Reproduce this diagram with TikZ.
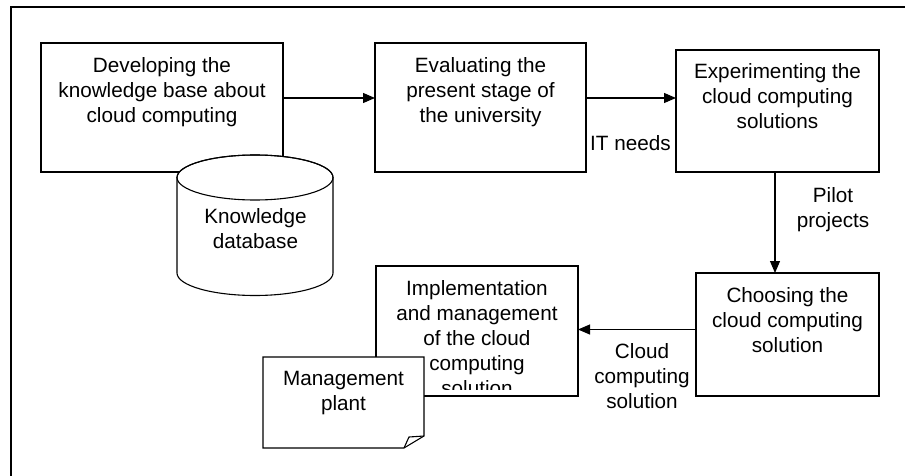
\documentclass[tikz,border=0pt]{standalone}
\usepackage{fontspec}
\setmainfont{Liberation Sans}
\usetikzlibrary{positioning, arrows.meta}

\tikzset{
  blocco/.style={draw, fill=white, line width=1.1pt, inner sep=0pt, outer sep=0pt},
  testo/.style={inner sep=0pt, align=center, font=\fontsize{20.7}{25}\selectfont},
  freccia/.style={line width=1.1pt, -{Triangle[length=12pt, width=10pt]}},
  forma/.style={line width=1.1pt, fill=white},
}

\begin{document}
\begin{tikzpicture}[x=1pt, y=-1pt]
        \useasboundingbox (0,0) rectangle (905,476);
        % Cornice
        \draw[line width=1.1pt] (905,7) -- (11,7) -- (11,476);

        % Blocchi in alto
        \node[blocco, minimum width=242pt, minimum height=129pt] (sviluppo) at (162,107.5) {};
        \node[testo, below=14pt of sviluppo.north] (tsviluppo) {Developing the\\knowledge base about\\cloud computing};
        \node[blocco, minimum width=211pt, minimum height=129pt] (valutazione) at (480.5,107.5) {};
        \node[testo, below=14pt of valutazione.north] (tvalutazione) {Evaluating the\\present stage of\\the university};
        \node[blocco, minimum width=203pt, minimum height=122pt] (sperimentazione) at (777.5,111) {};
        \node[testo, below=13pt of sperimentazione.north] (tsperimentazione) {Experimenting the\\cloud computing\\solutions};

        % Archivio della conoscenza
        \filldraw[forma] (177,177.5) -- (177,273) arc[start angle=180, end angle=0, x radius=78, y radius=22.5]
            -- (333,177.5) arc[start angle=0, end angle=-180, x radius=78, y radius=22.5] -- cycle;
        \draw[line width=1.1pt] (255,177.5) ellipse [x radius=78, y radius=22.5];
        \node[testo, anchor=north] (tarchivio) at (255.5,208) {Knowledge\\database};

        % Blocchi in basso
        \node[blocco, minimum width=183pt, minimum height=123pt] (scelta) at (787.5,334.5) {};
        \node[testo, below=14pt of scelta.north] (tscelta) {Choosing the\\cloud computing\\solution};
        \node[blocco, minimum width=202pt, minimum height=130pt] (implementazione) at (477,331) {};
        \begin{scope}
          \clip (376,266) rectangle (578,389);
          \node[testo, below=14pt of implementazione.north] (timplementazione) {Implementation\\and management\\of the cloud\\computing\\solution};
        \end{scope}

        % Piano di gestione
        \filldraw[forma] (263,357) -- (424,357) -- (424,436) -- (404,448) -- (263,448) -- cycle;
        \draw[line width=1.1pt] (404,448) -- (409,437) -- (424,436);
        \node[testo, anchor=north] (tpiano) at (343.5,371) {Management\\plant};

        % Frecce
        \draw[freccia] ([yshift=9.5pt]sviluppo.east) -- ([yshift=9.5pt]sviluppo.east -| valutazione.west);
        \draw[freccia] ([yshift=9.5pt]valutazione.east) -- ([yshift=9.5pt]valutazione.east -| sperimentazione.west);
        \draw[freccia] ([xshift=-2.5pt]sperimentazione.south) -- ([xshift=-2.5pt]sperimentazione.south |- scelta.north);
        \draw[freccia] ([yshift=5pt]scelta.west) -- ([yshift=5pt]scelta.west -| implementazione.east);

        \node[testo, anchor=north] (bisogni) at (630.5,135) {IT needs};
        \node[testo, anchor=north] (progetti) at (833,187) {Pilot\\projects};
        \node[testo, anchor=north] (soluzione) at (642,343) {Cloud\\computing\\solution};
\end{tikzpicture}
\end{document}
